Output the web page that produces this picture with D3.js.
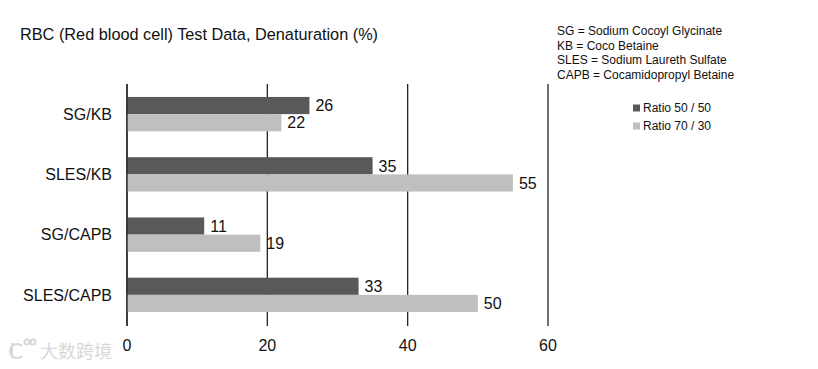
<!DOCTYPE html>
<html>
<head>
<meta charset="utf-8">
<script src="https://cdn.jsdelivr.net/npm/d3@7"></script>
<style>
  body { margin: 0; background: #fff; }
  text { font-family: "Liberation Sans", Arial, sans-serif; fill: #111; }
</style>
</head>
<body>
<div id="chart"></div>
<script>
var categories = ['SG/KB', 'SLES/KB', 'SG/CAPB', 'SLES/CAPB'];
var series = ['Ratio 50 / 50', 'Ratio 70 / 30'];
var ratio5050 = [26, 35, 11, 33];
var ratio7030 = [22, 55, 19, 50];
var xTicks = [0, 20, 40, 60];
var notes = [
    'SG = Sodium Cocoyl Glycinate',
    'KB = Coco Betaine',
    'SLES = Sodium Laureth Sulfate',
    'CAPB = Cocamidopropyl Betaine'
];
var colors = ['#595959', '#bfbfbf'];

var width = 818, height = 369;
var svg = d3.select('#chart').append('svg')
    .attr('width', width)
    .attr('height', height);

var x = d3.scaleLinear().domain([0, 60]).range([127, 548]);
var y = d3.scaleBand().domain(categories).range([84, 325])
    .paddingInner(0.43).paddingOuter(0.215);
var sub = d3.scaleBand().domain(series).range([0, y.bandwidth()]);

// title
svg.append('text')
    .attr('x', 20).attr('y', 40)
    .style('font-size', '16.3px')
    .text('RBC (Red blood cell) Test Data, Denaturation (%)');

// gridlines with ticks below
svg.append('g').selectAll('line')
    .data(xTicks)
    .join('line')
        .attr('x1', function(d) { return x(d); })
        .attr('x2', function(d) { return x(d); })
        .attr('y1', 84)
        .attr('y2', 326)
        .attr('stroke', '#222')
        .attr('stroke-width', 1.3);

// x tick labels
svg.append('g').selectAll('text')
    .data(xTicks)
    .join('text')
        .attr('x', function(d) { return x(d); })
        .attr('y', 351)
        .attr('text-anchor', 'middle')
        .style('font-size', '16px')
        .text(function(d) { return d; });

// bars
var rows = categories.map(function(c, i) {
    return [
        { cat: c, key: series[0], value: ratio5050[i], color: colors[0] },
        { cat: c, key: series[1], value: ratio7030[i], color: colors[1] }
    ];
});

var group = svg.append('g').selectAll('g')
    .data(rows)
    .join('g')
        .attr('transform', function(d) { return 'translate(0,' + y(d[0].cat) + ')'; });

group.selectAll('rect')
    .data(function(d) { return d; })
    .join('rect')
        .attr('x', x(0))
        .attr('y', function(d) { return sub(d.key); })
        .attr('width', function(d) { return x(d.value) - x(0); })
        .attr('height', sub.bandwidth())
        .attr('fill', function(d) { return d.color; });

group.selectAll('text')
    .data(function(d) { return d; })
    .join('text')
        .attr('x', function(d) { return x(d.value) + 6; })
        .attr('y', function(d) { return sub(d.key) + sub.bandwidth() / 2; })
        .attr('dy', '0.36em')
        .style('font-size', '16px')
        .text(function(d) { return d.value; });

// redraw the zero line above bars
svg.append('line')
    .attr('x1', x(0)).attr('x2', x(0))
    .attr('y1', 84).attr('y2', 326)
    .attr('stroke', '#222')
    .attr('stroke-width', 1.3);

// category labels
svg.append('g').selectAll('text')
    .data(categories)
    .join('text')
        .attr('x', 112)
        .attr('y', function(d) { return y(d) + y.bandwidth() / 2; })
        .attr('dy', '0.36em')
        .attr('text-anchor', 'end')
        .style('font-size', '16px')
        .text(function(d) { return d; });

// abbreviation notes
svg.append('g').selectAll('text')
    .data(notes)
    .join('text')
        .attr('x', 557)
        .attr('y', function(d, i) { return 35 + i * 14.6; })
        .style('font-size', '12px')
        .text(function(d) { return d; });

// legend
var legend = svg.append('g').selectAll('g')
    .data(series)
    .join('g')
        .attr('transform', function(d, i) { return 'translate(633,' + (108 + i * 18) + ')'; });

legend.append('rect')
    .attr('x', 0).attr('y', -3.5)
    .attr('width', 7).attr('height', 7)
    .attr('fill', function(d, i) { return colors[i]; });

legend.append('text')
    .attr('x', 10).attr('y', 0)
    .attr('dy', '0.36em')
    .style('font-size', '12px')
    .text(function(d) { return d; });

// watermark
var wm = svg.append('g').attr('fill', 'none').attr('stroke', '#d8d8d8').attr('stroke-width', 2);
wm.append('path').attr('d', 'M12,343 L12,358 M22,346 A7,7 0 1,0 22,356');
wm.append('circle').attr('cx', 27).attr('cy', 342).attr('r', 2.5);
wm.append('circle').attr('cx', 33).attr('cy', 342).attr('r', 2.5);
svg.append('text')
    .attr('x', 40).attr('y', 358)
    .style('font-size', '18px')
    .style('font-family', '"Noto Sans CJK SC", sans-serif')
    .style('fill', '#d8d8d8')
    .text('大数跨境');
</script>
</body>
</html>
